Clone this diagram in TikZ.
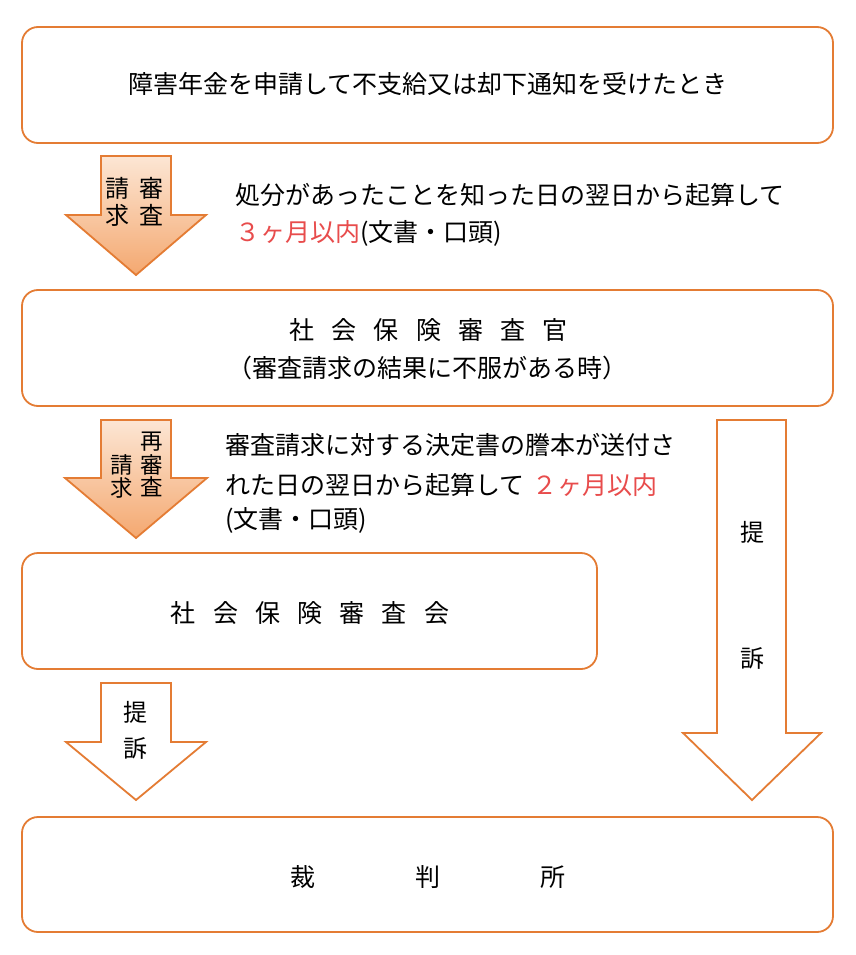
\documentclass[tikz,border=0pt]{standalone}
\usepackage{fontspec}
\setmainfont{Noto Sans CJK JP}
\definecolor{edge}{RGB}{228,124,52}
\definecolor{redtxt}{RGB}{232,76,76}
\definecolor{shtop}{RGB}{252,230,212}
\definecolor{shbot}{RGB}{244,168,112}
\newcommand\gapA{\hspace{17.2pt}}
\newcommand\jpfs{\fontsize{25}{30}\selectfont}
\newcommand\jpfsa{\fontsize{24}{28}\selectfont}
\newcommand\jpfsb{\fontsize{22.5}{26}\selectfont}
\begin{document}
\begin{tikzpicture}[x=1pt,y=-1pt,
  box/.style={draw=edge, line width=1.8pt, rounded corners=16pt, fill=white, inner sep=0pt},
  barrow/.style={draw=edge, line width=1.8pt, line join=miter},
  fillarrow/.style={barrow, top color=shtop, bottom color=shbot},
  txt/.style={inner sep=0pt, font=\jpfs},
  atxt/.style={inner sep=0pt, font=\jpfsa},
  btxt/.style={inner sep=0pt, font=\jpfsb}]
\useasboundingbox (0,0) rectangle (855,955);
\fill[white] (0,0) rectangle (855,955);

% boxes
\node[box, minimum width=811pt, minimum height=116pt] (b1) at (427.5,85) {};
\node[box, minimum width=811pt, minimum height=116pt] (b2) at (427.5,348) {};
\node[box, minimum width=575pt, minimum height=116pt] (b3) at (309.5,611) {};
\node[box, minimum width=811pt, minimum height=115pt] (b4) at (427.5,874.5) {};

\node[txt] (b1t) at (428,84) {障害年金を申請して不支給又は却下通知を受けたとき};
\node[txt] (b2t) at (428.5,330) {社\gapA 会\gapA 保\gapA 険\gapA 審\gapA 査\gapA 官};
\node[txt] (b2u) at (427.5,368) {（審査請求の結果に不服がある時）};
\node[txt] (b3t) at (310,613) {社\gapA 会\gapA 保\gapA 険\gapA 審\gapA 査\gapA 会};
\node[txt] (b4t) at (428,877) {裁\hspace{100pt}判\hspace{100pt}所};

% block arrows
\path[fillarrow] (101,156) -- (171,156) -- (171,215) -- (206,215) -- (136,275) -- (66,215) -- (101,215) -- cycle;
\path[fillarrow] (101,420) -- (171,420) -- (171,478) -- (207,478) -- (136,538) -- (65,478) -- (101,478) -- cycle;
\path[barrow, fill=white] (101,683) -- (171,683) -- (171,742) -- (206,742) -- (136,800) -- (66,742) -- (101,742) -- cycle;
\path[barrow, fill=white] (717,420) -- (786,420) -- (786,733) -- (821,733) -- (752,800) -- (683,733) -- (717,733) -- cycle;

% arrow labels
\node[atxt] (a1a) at (117,188) {請};
\node[atxt] (a1b) at (117,215) {求};
\node[atxt] (a1c) at (151,188) {審};
\node[atxt] (a1d) at (151,215) {査};

\node[btxt] (a2a) at (152,442) {再};
\node[btxt] (a2b) at (152,465) {審};
\node[btxt] (a2c) at (152,487) {査};
\node[btxt] (a2d) at (122,465) {請};
\node[btxt] (a2e) at (122,488) {求};

\node[atxt] (a3a) at (135,712) {提};
\node[atxt] (a3b) at (135,748) {訴};

\node[atxt] (a4a) at (752,532) {提};
\node[atxt] (a4b) at (752,658) {訴};

% side notes
\node[txt, anchor=west] (n1a) at (235,195) {処分があったことを知った日の翌日から起算して};
\node[txt, anchor=west] (n1b) at (235,233) {{\color{redtxt}３ヶ月以内}(文書・口頭)};

\node[txt, anchor=west] (n2a) at (225,445) {審査請求に対する決定書の謄本が送付さ};
\node[txt, anchor=west] (n2b) at (225,485) {れた日の翌日から起算して\hspace{8pt}{\color{redtxt}２ヶ月以内}};
\node[txt, anchor=west] (n2c) at (225,520) {(文書・口頭)};
\end{tikzpicture}
\end{document}
